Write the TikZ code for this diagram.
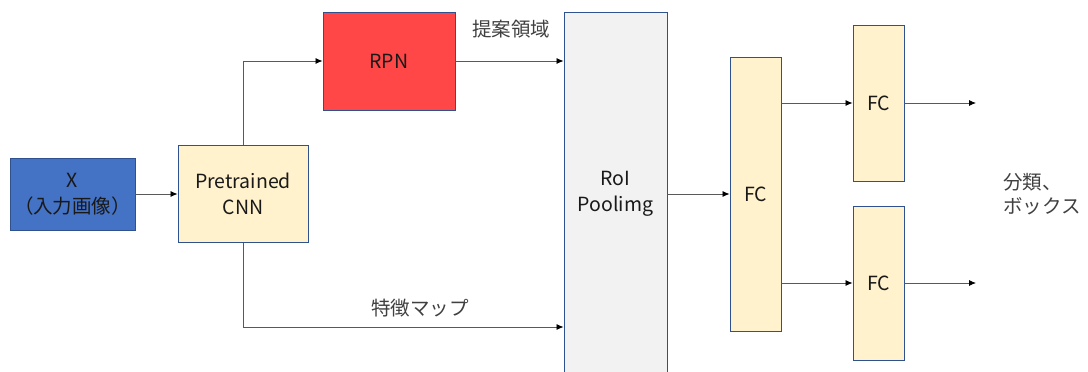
\documentclass[tikz,border=0pt]{standalone}
\usepackage{fontspec}
\setmainfont{Noto Sans CJK JP}
\usetikzlibrary{arrows.meta,calc}
\definecolor{bblue}{HTML}{4472C4}
\definecolor{bedge}{HTML}{2F528F}
\definecolor{byel}{HTML}{FFF2CC}
\definecolor{bred}{HTML}{FF4747}
\definecolor{bgray}{HTML}{F2F2F2}
\definecolor{lgray}{HTML}{595959}
\definecolor{tgray}{HTML}{404040}
\tikzset{
  blk/.style={draw=bedge, line width=0.9pt, inner sep=0pt, align=center,
    font=\fontsize{19.5}{26}\selectfont, text=black!90},
  conn/.style={draw=lgray, line width=0.8pt, -{Latex[length=7pt,width=6pt,color=black]}},
  lbl/.style={font=\fontsize{19.5}{26}\selectfont, text=tgray, inner sep=0pt}
}
\begin{document}
\begin{tikzpicture}[x=1pt,y=-1pt]
\useasboundingbox (0,0) rectangle (1088,372);
\clip (0,0) rectangle (1088,372);
\node[blk, fill=bblue, minimum width=125pt, minimum height=72pt] (x) at (72.5,194) {X\\（入力画像）};
\node[blk, fill=byel, minimum width=130pt, minimum height=97pt] (cnn) at (243,194) {Pretrained\\CNN};
\node[blk, fill=bred, minimum width=132pt, minimum height=98pt] (rpn) at (389,61) {RPN};
\node[blk, fill=bgray, minimum width=103pt, minimum height=364pt] (roi) at (615.5,194) {RoI\\Poolimg};
\node[blk, fill=byel, minimum width=51pt, minimum height=274pt] (fc) at (755.5,194) {FC};
\node[blk, fill=byel, minimum width=51pt, minimum height=156pt] (fca) at (878.5,103) {FC};
\node[blk, fill=byel, minimum width=51pt, minimum height=154pt] (fcb) at (878.5,283) {FC};
\coordinate (fmy) at (0,327);
\coordinate (outa) at (976,103);
\coordinate (outb) at (976,283);
\draw[conn] (x.east) -- (cnn.west);
\draw[conn] (cnn.north) |- (rpn.west);
\draw[conn] (rpn.east) -- (rpn.east -| roi.west);
\draw[conn] (cnn.south) |- (roi.west |- fmy);
\draw[conn] (roi.east) -- (fc.west);
\draw[conn] (fc.east |- fca.west) -- (fca.west);
\draw[conn] (fc.east |- fcb.west) -- (fcb.west);
\draw[conn] (fca.east) -- (outa);
\draw[conn] (fcb.east) -- (outb);
\node[lbl] (l1) at (511,29) {提案領域};
\node[lbl] (l2) at (420,308) {特徴マップ};
\node[lbl, anchor=west] (l3) at (1003,182) {分類、};
\node[lbl, anchor=west] (l4) at (1003,206) {ボックス};
\end{tikzpicture}
\end{document}
